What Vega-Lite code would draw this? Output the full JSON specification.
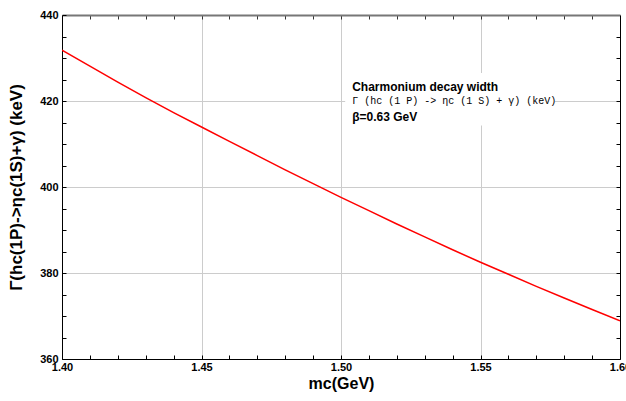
{
  "$schema": "https://vega.github.io/schema/vega-lite/v6.json",
  "width": 558,
  "height": 344,
  "autosize": {"type": "none"},
  "padding": {"left": 62, "top": 15, "right": 6, "bottom": 42},
  "background": "white",
  "config": {"view": {"stroke": null}},
  "datasets": {
    "curve": [
      {"mc": 1.40, "width": 431.8},
      {"mc": 1.41, "width": 428.1},
      {"mc": 1.42, "width": 424.4},
      {"mc": 1.43, "width": 420.8},
      {"mc": 1.44, "width": 417.3},
      {"mc": 1.45, "width": 413.95},
      {"mc": 1.46, "width": 410.6},
      {"mc": 1.47, "width": 407.3},
      {"mc": 1.48, "width": 404.0},
      {"mc": 1.49, "width": 400.8},
      {"mc": 1.50, "width": 397.6},
      {"mc": 1.51, "width": 394.5},
      {"mc": 1.52, "width": 391.4},
      {"mc": 1.53, "width": 388.4},
      {"mc": 1.54, "width": 385.4},
      {"mc": 1.55, "width": 382.5},
      {"mc": 1.56, "width": 379.7},
      {"mc": 1.57, "width": 376.9},
      {"mc": 1.58, "width": 374.2},
      {"mc": 1.59, "width": 371.5},
      {"mc": 1.60, "width": 368.9}
    ],
    "note": [{"label": "annotation"}]
  },
  "layer": [
    {
      "data": {"name": "note"},
      "mark": {"type": "rect", "fill": "white", "stroke": null},
      "encoding": {
        "x": {"datum": 1.5015, "type": "quantitative", "axis": null},
        "x2": {"datum": 1.5767},
        "y": {"datum": 426.5, "type": "quantitative", "axis": null},
        "y2": {"datum": 414.3}
      }
    },
    {
      "data": {"name": "curve"},
      "mark": {"type": "line", "color": "#ff0000", "strokeWidth": 1.5, "clip": true},
      "encoding": {
        "x": {
          "field": "mc", "type": "quantitative",
          "scale": {"domain": [1.4, 1.6], "nice": false, "zero": false},
          "axis": {
            "orient": "bottom",
            "values": [1.40,1.41,1.42,1.43,1.44,1.45,1.46,1.47,1.48,1.49,1.50,1.51,1.52,1.53,1.54,1.55,1.56,1.57,1.58,1.59,1.60],
            "labelExpr": "round(datum.value*100) % 5 == 0 ? format(datum.value, '.2f') : ''",
            "title": "mc(GeV)",
            "titleFont": "Liberation Sans", "titleFontSize": 16, "titleFontWeight": "bold", "titleColor": "black",
            "titleY": 29, "titleBaseline": "alphabetic",
            "labelFont": "Liberation Sans", "labelFontSize": 11, "labelFontWeight": "bold", "labelColor": "black",
            "labelPadding": 6,
            "labelFlush": false, "labelOverlap": false,
            "tickSize": -4, "tickColor": "black", "tickWidth": 1,
            "domainColor": "black", "domainWidth": 1,
            "grid": true, "gridColor": "#cccccc", "gridWidth": 1,
            "gridOpacity": {"condition": {"test": "round(datum.value*100) % 5 == 0", "value": 1}, "value": 0}
          }
        },
        "y": {
          "field": "width", "type": "quantitative",
          "scale": {"domain": [360, 440], "nice": false, "zero": false},
          "axis": {
            "orient": "left",
            "values": [360,365,370,375,380,385,390,395,400,405,410,415,420,425,430,435,440],
            "labelExpr": "datum.value % 20 == 0 ? format(datum.value, 'd') : ''",
            "title": "Γ(hc(1P)->ηc(1S)+γ) (keV)",
            "titleFont": "Liberation Sans", "titleFontSize": 17, "titleFontWeight": "bold", "titleColor": "black",
            "titlePadding": 14,
            "labelFont": "Liberation Sans", "labelFontSize": 11, "labelFontWeight": "bold", "labelColor": "black",
            "labelPadding": 8,
            "labelFlush": false, "labelOverlap": false,
            "tickSize": -4, "tickColor": "black", "tickWidth": 1,
            "domainColor": "black", "domainWidth": 1,
            "grid": true, "gridColor": "#cccccc", "gridWidth": 1,
            "gridOpacity": {"condition": {"test": "datum.value % 20 == 0", "value": 1}, "value": 0}
          }
        }
      }
    },
    {
      "data": {"name": "curve"},
      "mark": {"type": "line", "strokeOpacity": 0},
      "encoding": {
        "x": {
          "field": "mc", "type": "quantitative",
          "axis": {
            "orient": "top",
            "values": [1.41,1.42,1.43,1.44,1.45,1.46,1.47,1.48,1.49,1.50,1.51,1.52,1.53,1.54,1.55,1.56,1.57,1.58,1.59],
            "labels": false, "title": null, "grid": false,
            "tickSize": -4, "tickColor": "#333333",
            "domainColor": "#777777", "domainWidth": 2
          }
        },
        "y": {
          "field": "width", "type": "quantitative",
          "axis": {
            "orient": "right",
            "values": [365,370,375,380,385,390,395,400,405,410,415,420,425,430,435],
            "labels": false, "title": null, "grid": false,
            "tickSize": -4, "tickColor": "black",
            "domainColor": "black", "domainWidth": 1
          }
        }
      }
    },
    {
      "data": {"name": "note"},
      "mark": {"type": "text", "align": "left", "baseline": "middle", "font": "Liberation Sans", "fontSize": 12, "fontWeight": "bold", "fill": "black"},
      "encoding": {
        "x": {"datum": 1.504, "type": "quantitative", "axis": null},
        "y": {"datum": 423.2, "type": "quantitative", "axis": null},
        "text": {"value": "Charmonium decay width"}
      }
    },
    {
      "data": {"name": "note"},
      "mark": {"type": "text", "align": "left", "baseline": "middle", "font": "Liberation Mono", "fontSize": 10, "fill": "black"},
      "encoding": {
        "x": {"datum": 1.504, "type": "quantitative", "axis": null},
        "y": {"datum": 420.0, "type": "quantitative", "axis": null},
        "text": {"value": "Γ (hc (1 P) -> ηc (1 S) + γ) (keV)"}
      }
    },
    {
      "data": {"name": "note"},
      "mark": {"type": "text", "align": "left", "baseline": "middle", "font": "Liberation Sans", "fontSize": 12, "fontWeight": "bold", "fill": "black"},
      "encoding": {
        "x": {"datum": 1.504, "type": "quantitative", "axis": null},
        "y": {"datum": 416.3, "type": "quantitative", "axis": null},
        "text": {"value": "β=0.63 GeV"}
      }
    }
  ],
  "resolve": {"axis": {"x": "independent", "y": "independent"}}
}
